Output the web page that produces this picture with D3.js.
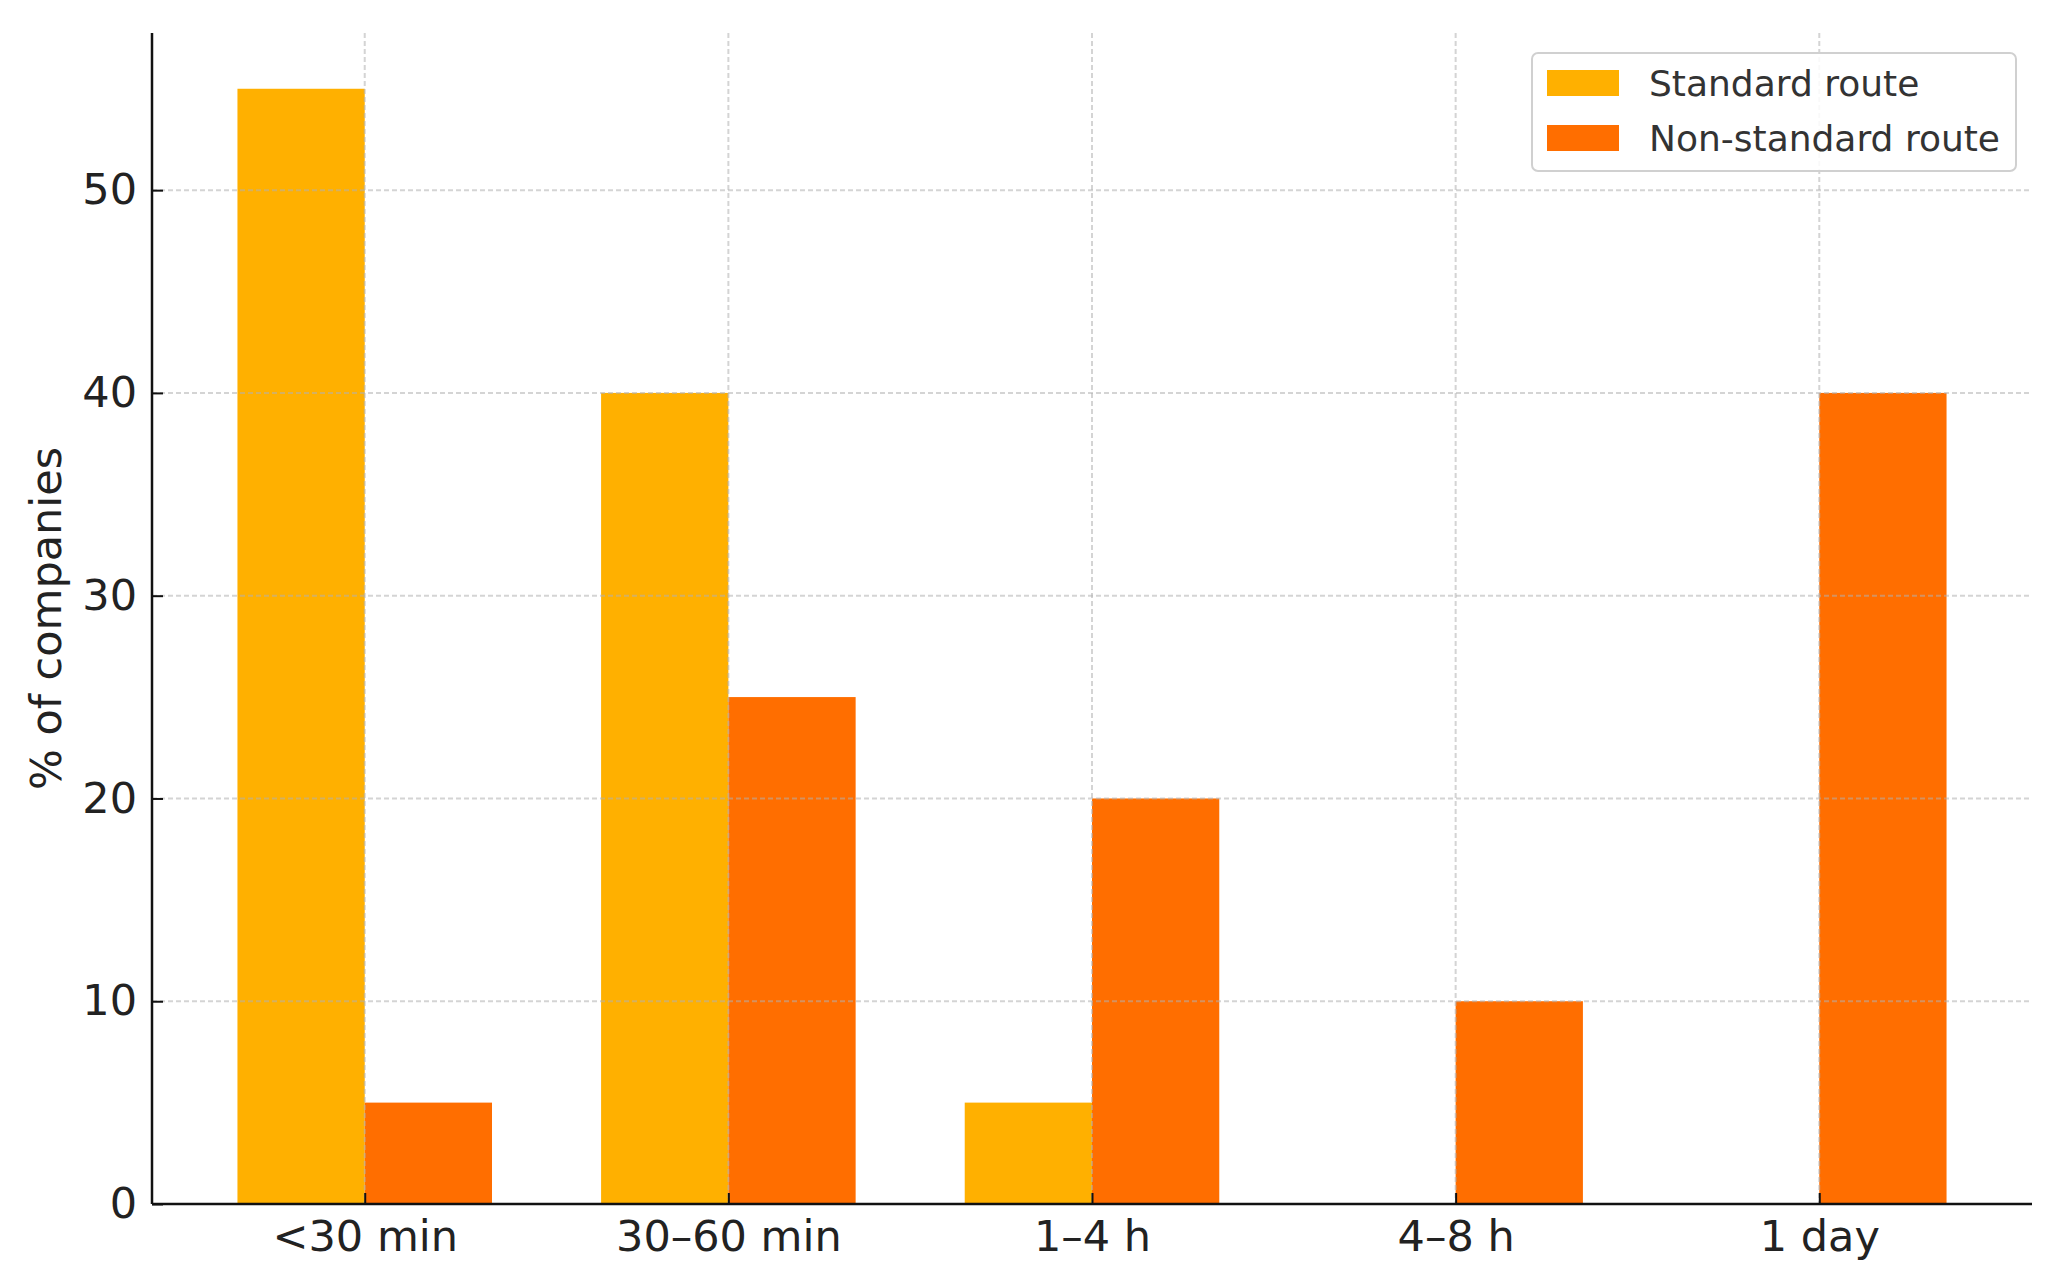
<!DOCTYPE html>
<html>
<head>
<meta charset="utf-8">
<script src="https://cdn.jsdelivr.net/npm/d3@7"></script>
<style>
  body { margin: 0; background: #fff; }
  text { font-family: "DejaVu Sans", sans-serif; }
</style>
</head>
<body>
<div id="chart"></div>
<script>
var categories = ["<30 min", "30–60 min", "1–4 h", "4–8 h", "1 day"];
var seriesNames = ["Standard route", "Non-standard route"];
var standardValues = [55, 40, 5, 0, 0];
var nonStandardValues = [5, 25, 20, 10, 40];
var yTicks = [0, 10, 20, 30, 40, 50];
var colours = ["#FFB000", "#FF6E00"];

var W = 2052, H = 1273;
var margin = { top: 33, right: 20, bottom: 69, left: 152 };
var width = 2032 - margin.left,
    height = 1204 - margin.top;
var barW = 0.35;

var svg = d3.select("#chart").append("svg")
    .attr("width", W)
    .attr("height", H);

var g = svg.append("g")
    .attr("transform", "translate(" + margin.left + "," + margin.top + ")");

// index based x scale, same padding as the original auto margins
var span = categories.length - 1 + 2 * barW;
var x = d3.scaleLinear()
    .domain([-barW - 0.05 * span, categories.length - 1 + barW + 0.05 * span])
    .range([0, width]);

var y = d3.scaleLinear()
    .domain([0, 55 * 1.05])
    .range([height, 0]);

var series = [standardValues, nonStandardValues];

series.forEach(function(vals, s) {
    g.append("g").selectAll("rect")
        .data(vals)
        .enter().append("rect")
        .attr("x", function(d, i) { return x(i + (s === 0 ? -barW : 0)); })
        .attr("width", x(barW) - x(0))
        .attr("y", function(d) { return y(d); })
        .attr("height", function(d) { return y(0) - y(d); })
        .style("fill", colours[s]);
});

// grid on top, light dashed
var grid = g.append("g").attr("class", "grid");
grid.selectAll(".hgrid")
    .data(yTicks)
    .enter().append("line")
    .attr("x1", 0).attr("x2", width)
    .attr("y1", function(d) { return y(d); })
    .attr("y2", function(d) { return y(d); })
    .style("stroke", "#b0b0b0")
    .style("stroke-opacity", 0.55)
    .style("stroke-width", 2)
    .style("stroke-dasharray", "5,3");
grid.selectAll(".vgrid")
    .data(categories)
    .enter().append("line")
    .attr("x1", function(d, i) { return x(i); })
    .attr("x2", function(d, i) { return x(i); })
    .attr("y1", 0).attr("y2", height)
    .style("stroke", "#b0b0b0")
    .style("stroke-opacity", 0.55)
    .style("stroke-width", 2)
    .style("stroke-dasharray", "5,3");

var yAxis = d3.axisLeft(y)
    .tickValues(yTicks)
    .tickSize(-11)
    .tickPadding(15);

var xAxis = d3.axisBottom(x)
    .tickValues(d3.range(categories.length))
    .tickFormat(function(i) { return categories[i]; })
    .tickSize(-11)
    .tickPadding(16);

var yAxisElem = g.append("g")
    .attr("class", "y-axis")
    .call(yAxis);

var xAxisElem = g.append("g")
    .attr("class", "x-axis")
    .attr("transform", "translate(0," + height + ")")
    .call(xAxis);

[xAxisElem, yAxisElem].forEach(function(a) {
    a.select(".domain").remove();
    a.selectAll(".tick line").style("stroke", "#111").style("stroke-width", 2);
    a.selectAll(".tick text")
        .style("font-size", "43px")
        .style("fill", "#222")
        .style("font-family", "DejaVu Sans, sans-serif");
});

// spines
g.append("line")
    .attr("x1", 0).attr("x2", 0).attr("y1", 0).attr("y2", height)
    .style("stroke", "#111").style("stroke-width", 2.5);
g.append("line")
    .attr("x1", 0).attr("x2", width).attr("y1", height).attr("y2", height)
    .style("stroke", "#111").style("stroke-width", 2.5);

svg.append("text")
    .attr("transform", "translate(46," + (margin.top + height / 2) + ") rotate(-90)")
    .attr("text-anchor", "middle")
    .attr("dominant-baseline", "central")
    .style("font-size", "43px")
    .style("fill", "#222")
    .text("% of companies");

// legend
var legend = svg.append("g").attr("transform", "translate(1532,53)");
legend.append("rect")
    .attr("width", 484).attr("height", 118)
    .attr("rx", 6)
    .style("fill", "#fff").style("fill-opacity", 0.85)
    .style("stroke", "#d0d0d0").style("stroke-width", 2);

seriesNames.forEach(function(name, i) {
    legend.append("rect")
        .attr("x", 15).attr("y", 17 + i * 55)
        .attr("width", 72).attr("height", 26)
        .style("fill", colours[i]);
    legend.append("text")
        .attr("x", 117).attr("y", 43 + i * 55)
        .style("font-size", "36px")
        .style("fill", "#333")
        .text(name);
});
</script>
</body>
</html>
